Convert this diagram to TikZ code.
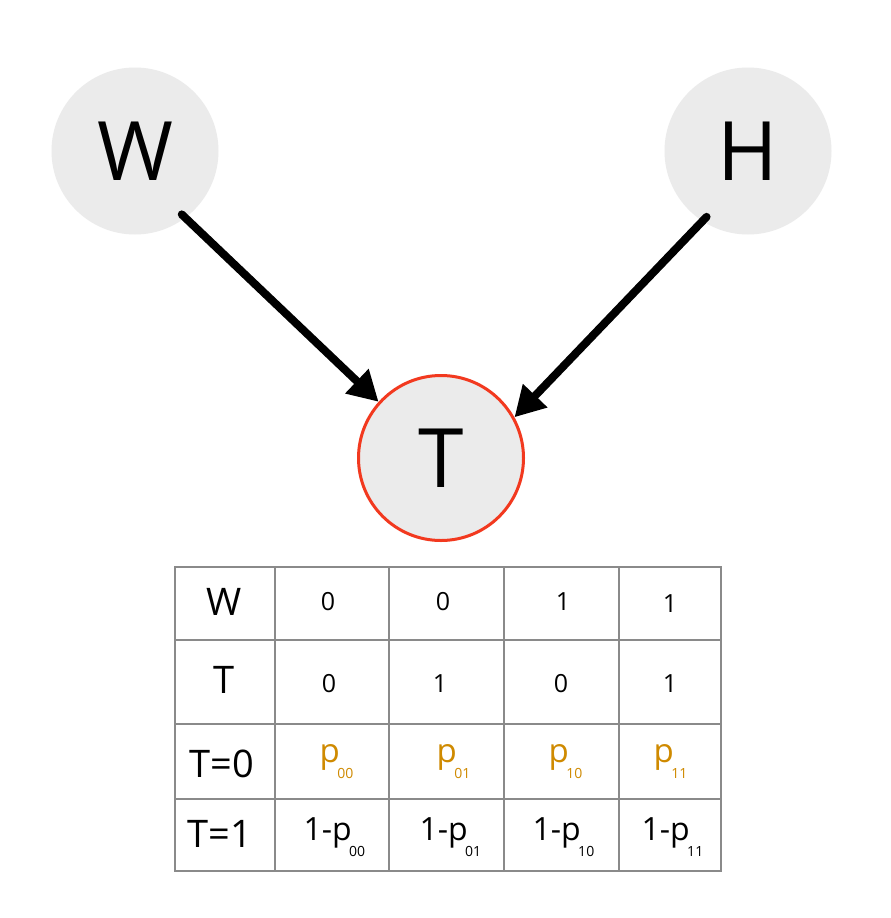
\documentclass[tikz,border=0pt]{standalone}
\usepackage{fontspec}
\setmainfont{Open Sans}
\usetikzlibrary{arrows.meta}
\definecolor{nodefill}{HTML}{EBEBEB}
\definecolor{tred}{HTML}{F2391F}
\definecolor{porange}{HTML}{CF8A00}
\definecolor{gridgray}{HTML}{8A8A8A}
\newcommand{\fsz}[1]{\fontsize{#1}{#1}\selectfont}
\newcommand{\lowsub}[1]{\kern-2.5pt\raisebox{-16pt}{\fsz{14}#1}}
\begin{document}
\begin{tikzpicture}[x=1pt,y=-1pt,
  varnode/.style={circle,fill=nodefill,minimum size=167pt,inner sep=0pt,font=\fsz{82}},
  edge/.style={line width=8pt,line cap=round,-{Triangle[length=30pt,width=32pt]}},
  gridline/.style={draw=gridgray,line width=1.5pt},
  hdr/.style={anchor=base,font=\fsz{38}},
  dig/.style={anchor=base,font=\fsz{25}},
  prob/.style={anchor=base west,font=\fsz{33},text=porange},
  cprob/.style={anchor=base west,font=\fsz{32}}]
\useasboundingbox (0,0) rectangle (891,918);
\fill[white] (0,0) rectangle (891,918);
% variable nodes
\node[varnode] (W) at (135,151) {W};
\node[varnode] (H) at (748,151) {H};
\node[varnode,draw=tred,line width=3pt,minimum size=165pt] (T) at (441,458) {T};
% edges
\draw[edge,shorten <=-5pt] (W.-53.3) -- (T.138);
\draw[edge,shorten <=-6pt] (H.-123.7) -- (T.29);
% table grid
\draw[gridline] (175,567) rectangle (721,871);
\foreach \yy in {640,724,799} \draw[gridline] (175,\yy) -- (721,\yy);
\foreach \xx in {275,389,504,619} \draw[gridline] (\xx,567) -- (\xx,871);
% row 1
\node[hdr] (rW) at (224,615) {W};
\node[dig] (a1) at (328,610) {0};
\node[dig] (a2) at (443,610) {0};
\node[dig] (a3) at (563,610) {1};
\node[dig] (a4) at (670,612) {1};
% row 2
\node[hdr] (rT) at (224,693) {T};
\node[dig] (b1) at (329,692) {0};
\node[dig] (b2) at (440,692) {1};
\node[dig] (b3) at (561,692) {0};
\node[dig] (b4) at (670,692) {1};
% row 3
\node[hdr] (rT0) at (222,777) {T=0};
\node[prob] (c1) at (316,762) {p\lowsub{00}};
\node[prob] (c2) at (433,762) {p\lowsub{01}};
\node[prob] (c3) at (545,762) {p\lowsub{10}};
\node[prob] (c4) at (650,762) {p\lowsub{11}};
% row 4
\node[hdr] (rT1) at (220,847) {T=1};
\node[cprob] (d1) at (300,840) {1-p\lowsub{00}};
\node[cprob] (d2) at (416,840) {1-p\lowsub{01}};
\node[cprob] (d3) at (529,840) {1-p\lowsub{10}};
\node[cprob] (d4) at (638,840) {1-p\lowsub{11}};
\end{tikzpicture}
\end{document}
